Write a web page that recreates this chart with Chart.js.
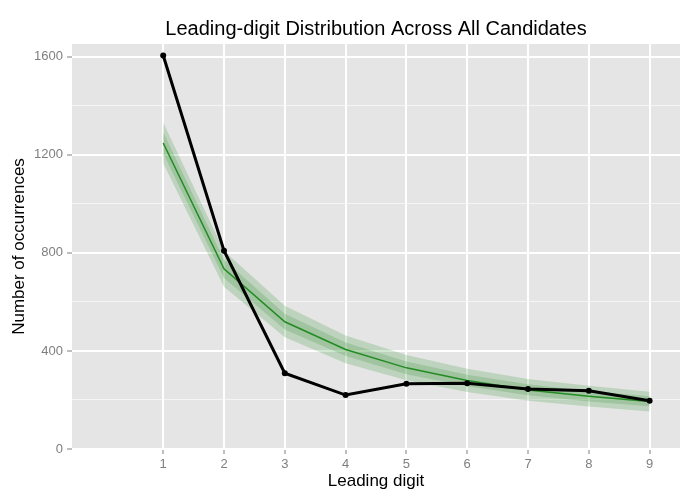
<!DOCTYPE html>
<html>
<head>
<meta charset="utf-8">
<title>Leading-digit Distribution</title>
<script src="https://cdn.jsdelivr.net/npm/chart.js@4.4.1/dist/chart.umd.min.js"></script>
<style>
  html, body { margin: 0; padding: 0; background: #ffffff; }
</style>
</head>
<body>
<canvas id="digitChart" width="700" height="500"></canvas>
<script>
// Leading digits and observed counts
const digits = [1, 2, 3, 4, 5, 6, 7, 8, 9];
const observed = [1605, 809, 309, 220, 266, 268, 245, 238, 197];

// Expected counts (green line) and the two bands around it
const expected = [1248, 735, 519, 406, 331, 279, 241, 215, 194];
const outerHi = [1332, 808, 584, 463, 383, 327, 286, 258, 234];
const outerLo = [1166, 662, 456, 350, 280, 232, 197, 173, 153];
const innerHi = [1292, 772, 552, 434, 357, 303, 264, 237, 215];
const innerLo = [1205, 698, 487, 379, 305, 256, 219, 194, 174];

const yTicks = [0, 200, 400, 600, 800, 1000, 1200, 1400, 1600];

const FONT = "'Liberation Sans', Arial, Helvetica, sans-serif";

function toPoints(values) {
    return digits.map((d, i) => ({ x: d, y: values[i] }));
}

// grey panel behind the grid, title centred over the panel
const panelPlugin = {
    id: 'panelPlugin',
    beforeDraw(chart) {
        const { ctx, chartArea: a } = chart;
        ctx.save();
        ctx.fillStyle = '#E5E5E5';
        ctx.fillRect(a.left, a.top, a.right - a.left, a.bottom - a.top);
        ctx.restore();
    },
    afterDraw(chart) {
        const { ctx, chartArea: a } = chart;
        ctx.save();
        ctx.fillStyle = '#000000';
        ctx.font = '20px ' + FONT;
        ctx.textAlign = 'center';
        ctx.textBaseline = 'alphabetic';
        ctx.fillText('Leading-digit Distribution Across All Candidates', (a.left + a.right) / 2, 35);
        ctx.restore();
    }
};

const bandColor = 'rgba(34, 139, 34, 0.2)';

const ctx = document.getElementById('digitChart').getContext('2d');
new Chart(ctx, {
    type: 'line',
    data: {
        datasets: [
            {
                label: 'Observed',
                data: toPoints(observed),
                borderColor: '#000000',
                backgroundColor: '#000000',
                borderWidth: 3,
                pointRadius: 3,
                pointBorderWidth: 0,
                fill: false
            },
            {
                label: 'Expected',
                data: toPoints(expected),
                borderColor: '#228B22',
                borderWidth: 1.5,
                pointRadius: 0,
                fill: false
            },
            {
                label: 'Outer upper',
                data: toPoints(outerHi),
                borderWidth: 0,
                pointRadius: 0,
                fill: false
            },
            {
                label: 'Outer lower',
                data: toPoints(outerLo),
                borderWidth: 0,
                pointRadius: 0,
                backgroundColor: bandColor,
                fill: 2
            },
            {
                label: 'Inner upper',
                data: toPoints(innerHi),
                borderWidth: 0,
                pointRadius: 0,
                fill: false
            },
            {
                label: 'Inner lower',
                data: toPoints(innerLo),
                borderWidth: 0,
                pointRadius: 0,
                backgroundColor: bandColor,
                fill: 4
            }
        ]
    },
    options: {
        responsive: false,
        animation: false,
        layout: { padding: { top: 44, right: 20, left: 0, bottom: 0 } },
        plugins: {
            legend: { display: false },
            tooltip: { enabled: false }
        },
        scales: {
            x: {
                type: 'linear',
                min: -0.5,
                max: 9.5,
                afterBuildTicks: scale => { scale.ticks = digits.map(v => ({ value: v })); },
                afterFit: scale => { scale.height = 51; },
                border: { display: false },
                grid: {
                    color: '#FFFFFF',
                    lineWidth: 2,
                    tickColor: '#7F7F7F',
                    tickWidth: 1,
                    tickLength: 5
                },
                ticks: {
                    color: '#7F7F7F',
                    padding: 3,
                    maxRotation: 0,
                    font: { family: FONT, size: 13 }
                },
                title: {
                    display: true,
                    text: 'Leading digit',
                    color: '#000000',
                    padding: { top: 0, bottom: 8 },
                    font: { family: FONT, size: 17 }
                }
            },
            y: {
                min: 0,
                max: 1652,
                afterBuildTicks: scale => { scale.ticks = yTicks.map(v => ({ value: v })); },
                afterFit: scale => { scale.width = 72; },
                border: { display: false },
                grid: {
                    color: c => c.tick && c.tick.value % 400 === 0 ? '#FFFFFF' : 'rgba(255,255,255,0.6)',
                    lineWidth: c => c.tick && c.tick.value % 400 === 0 ? 2 : 1,
                    tickColor: c => c.tick && c.tick.value % 400 === 0 ? '#7F7F7F' : 'rgba(0,0,0,0)',
                    tickWidth: 1,
                    tickLength: 5
                },
                ticks: {
                    color: '#7F7F7F',
                    padding: 4,
                    font: { family: FONT, size: 13 },
                    callback: v => (v % 400 === 0 ? String(v) : '')
                },
                title: {
                    display: true,
                    text: 'Number of occurrences',
                    color: '#000000',
                    padding: { top: 9, bottom: 0 },
                    font: { family: FONT, size: 17 }
                }
            }
        }
    },
    plugins: [panelPlugin]
});
</script>
</body>
</html>
